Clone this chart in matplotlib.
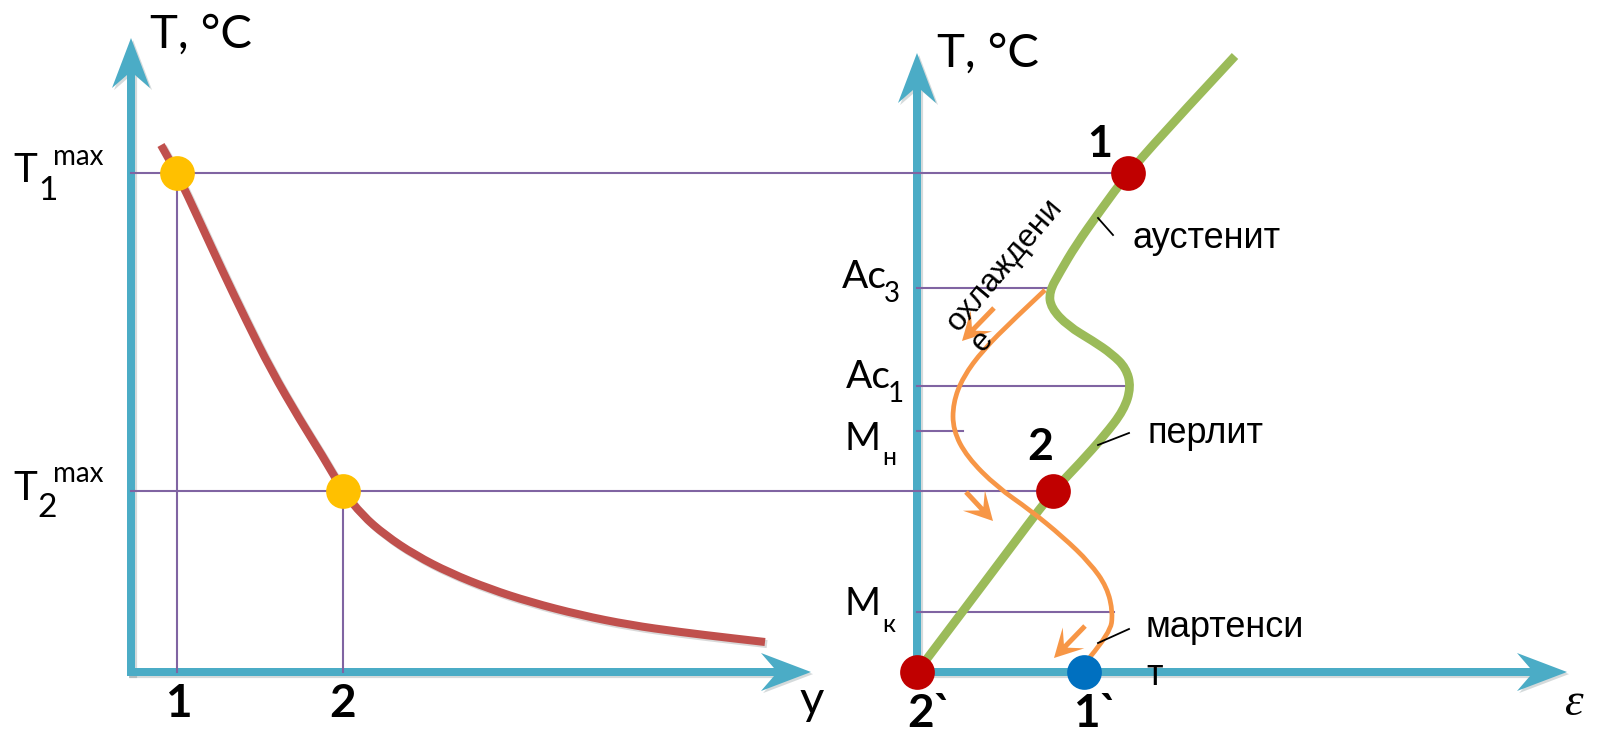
import matplotlib
matplotlib.use("Agg")
import matplotlib.pyplot as plt
import matplotlib.patheffects as pe
from matplotlib.path import Path
from matplotlib.patches import PathPatch

# colours
teal = "#4BACC6"
purple = "#8064A2"
red_line = "#C0504D"
green = "#9BBB59"
orange = "#F79646"
yellow = "#FFC000"
dark_red = "#C00000"
blue = "#0070C0"

# ---- data (diagram drawn in pixel space, y downwards) ----
# left panel: T_max(y) curve
red_x = [161, 177, 199, 222, 246, 271, 300, 322, 343, 362, 385, 415, 450, 490, 530, 580, 630, 680, 730, 765]
red_y = [145, 173, 220, 270, 320, 370, 420, 455, 491, 515, 535, 555, 573, 589, 602, 615, 625, 632, 638, 642]

# right panel: heating (green) and cooling (orange) curves
green_x = [1235, 1181, 1128, 1100, 1076, 1060, 1049, 1051, 1068, 1093, 1112, 1126, 1131, 1124, 1104, 1080, 1053, 1000, 917]
green_y = [56, 114, 173, 211, 245, 272, 292, 308, 326, 341, 354, 368, 387, 410, 436, 463, 491, 562, 672]
orange_x = [1045, 1013, 983, 963, 953, 953, 967, 997, 1030, 1063, 1090, 1107, 1113, 1110, 1090]
orange_y = [290, 320, 350, 377, 403, 430, 457, 487, 510, 537, 563, 587, 613, 633, 657]
cool_arrows = [((994, 308), (962, 341)), ((966, 492), (993, 521)), ((1085, 626), (1054, 658))]

# guide lines
h_levels = [173, 491, 288, 386, 431, 612]
h_start = [131, 131, 917, 917, 917, 917]
h_end = [1128, 1053, 1047, 1130, 963, 1114]
v_pos = [177, 343]
v_top = [173, 491]

# points
yellow_pts = [(177, 173), (343, 491)]
red_pts = [(1128, 173), (1053, 491), (917, 672)]
blue_pts = [(1084, 672)]

# axes arrows: (x0, y0, x1, y1)
axis_arrows = [(131, 676, 131, 38), (127, 672, 811, 672),
               (917, 676, 917, 53), (913, 672, 1567, 672)]

# phase labels with leader lines
phase_text = ["аустенит", "перлит", "мартенси", "т"]
phase_pos = [(1133, 248), (1148, 443), (1146, 637), (1146, 685)]
leaders = [((1098, 218), (1113, 235)), ((1098, 445), (1129, 433)), ((1098, 643), (1129, 629))]


def smooth(xs, ys):
    # quadratic bezier through the read points (points act as control points)
    pts = list(zip(xs, ys))
    verts, codes = [pts[0]], [Path.MOVETO]
    for i in range(1, len(pts) - 1):
        if i < len(pts) - 2:
            end = ((pts[i][0] + pts[i + 1][0]) / 2, (pts[i][1] + pts[i + 1][1]) / 2)
        else:
            end = pts[i + 1]
        verts += [pts[i], end]
        codes += [Path.CURVE3, Path.CURVE3]
    return Path(verts, codes)


fig = plt.figure(figsize=(15.98, 7.33), dpi=100)
ax = fig.add_axes([0, 0, 1, 1])
ax.set_xlim(0, 1598)
ax.set_ylim(733, 0)
ax.axis("off")

shadow = [pe.SimplePatchShadow(offset=(1.5, -1.5), alpha=0.18), pe.Normal()]

for x0, y0, x1, y1 in axis_arrows:
    ax.arrow(x0, y0, x1 - x0, y1 - y0, width=8, head_width=38, head_length=50,
             overhang=0.26, length_includes_head=True, color=teal, lw=0, zorder=2,
             path_effects=shadow)

for y, a, b in zip(h_levels, h_start, h_end):
    ax.plot([a, b], [y, y], color=purple, lw=1.5, zorder=3)
for x, t in zip(v_pos, v_top):
    ax.plot([x, x], [t, 672], color=purple, lw=1.5, zorder=3)

ax.add_patch(PathPatch(smooth(red_x, red_y), fill=False, edgecolor=red_line, lw=5.8,
                       capstyle="butt", zorder=4,
                       path_effects=[pe.Stroke(offset=(1.5, -1.5), foreground="k", alpha=0.15, linewidth=5.8), pe.Normal()]))
ax.add_patch(PathPatch(smooth(green_x, green_y), fill=False, edgecolor=green, lw=6.3,
                       capstyle="butt", zorder=4))
ax.add_patch(PathPatch(smooth(orange_x, orange_y), fill=False, edgecolor=orange, lw=3.4,
                       capstyle="butt", zorder=5))

for (x0, y0), (x1, y1) in cool_arrows:
    ax.arrow(x0, y0, x1 - x0, y1 - y0, width=5, head_width=30, head_length=28,
             overhang=0.4, length_includes_head=True, color=orange, lw=0, zorder=5)

for (x0, y0), (x1, y1) in leaders:
    ax.plot([x0, x1], [y0, y1], color="black", lw=1.3, zorder=5)

dot = 25 ** 2
ax.scatter(*zip(*yellow_pts), s=dot, color=yellow, zorder=6, linewidths=0)
ax.scatter(*zip(*red_pts), s=dot, color=dark_red, zorder=6, linewidths=0)
ax.scatter(*zip(*blue_pts), s=dot, color=blue, zorder=6, linewidths=0)

cal = ["Lato", "Open Sans", "DejaVu Sans"]
ari = ["Liberation Sans", "DejaVu Sans"]


def txt(x, y, s, size, fam=cal, **kw):
    ax.text(x, y, s, fontsize=size, family=fam, va="baseline", ha=kw.pop("ha", "left"), zorder=7, **kw)


# axis titles
txt(150, 48, "T, °C", 34)
txt(937, 67, "T, °C", 34)
txt(812, 714, "y", 34, ha="center")
txt(1574, 715, "ε", 34, fam=["Liberation Serif"], style="italic", ha="center")

# temperature labels left
txt(13, 182, "T", 29)
txt(38, 200, "1", 24)
txt(53, 165, "max", 20)
txt(13, 500, "T", 29)
txt(37, 517, "2", 24)
txt(53, 482, "max", 20)

# numbered points
txt(178, 717, "1", 33, weight="bold", ha="center")
txt(343, 717, "2", 33, weight="bold", ha="center")
txt(1100, 157, "1", 31, weight="bold", ha="center")
txt(1040, 460, "2", 32, weight="bold", ha="center")
txt(907, 727, "2`", 33, weight="bold")
txt(1073, 727, "1`", 33, weight="bold")

# critical points
txt(842, 288, "Ac", 28)
txt(884, 302, "3", 20)
txt(846, 388, "Ac", 28)
txt(888, 402, "1", 20)
txt(845, 450, "M", 28)
txt(882, 465, "н", 18)
txt(845, 615, "M", 28)
txt(882, 632, "к", 18)

for s, (x, y) in zip(phase_text, phase_pos):
    txt(x, y, s, 26, fam=ari)

ax.text(958, 333, "охлаждени", fontsize=23, family=ari, rotation=50,
        rotation_mode="anchor", ha="left", va="baseline", zorder=7)
ax.text(983, 353, "е", fontsize=23, family=ari, rotation=50,
        rotation_mode="anchor", ha="left", va="baseline", zorder=7)

fig.savefig("out.png", dpi=100)
